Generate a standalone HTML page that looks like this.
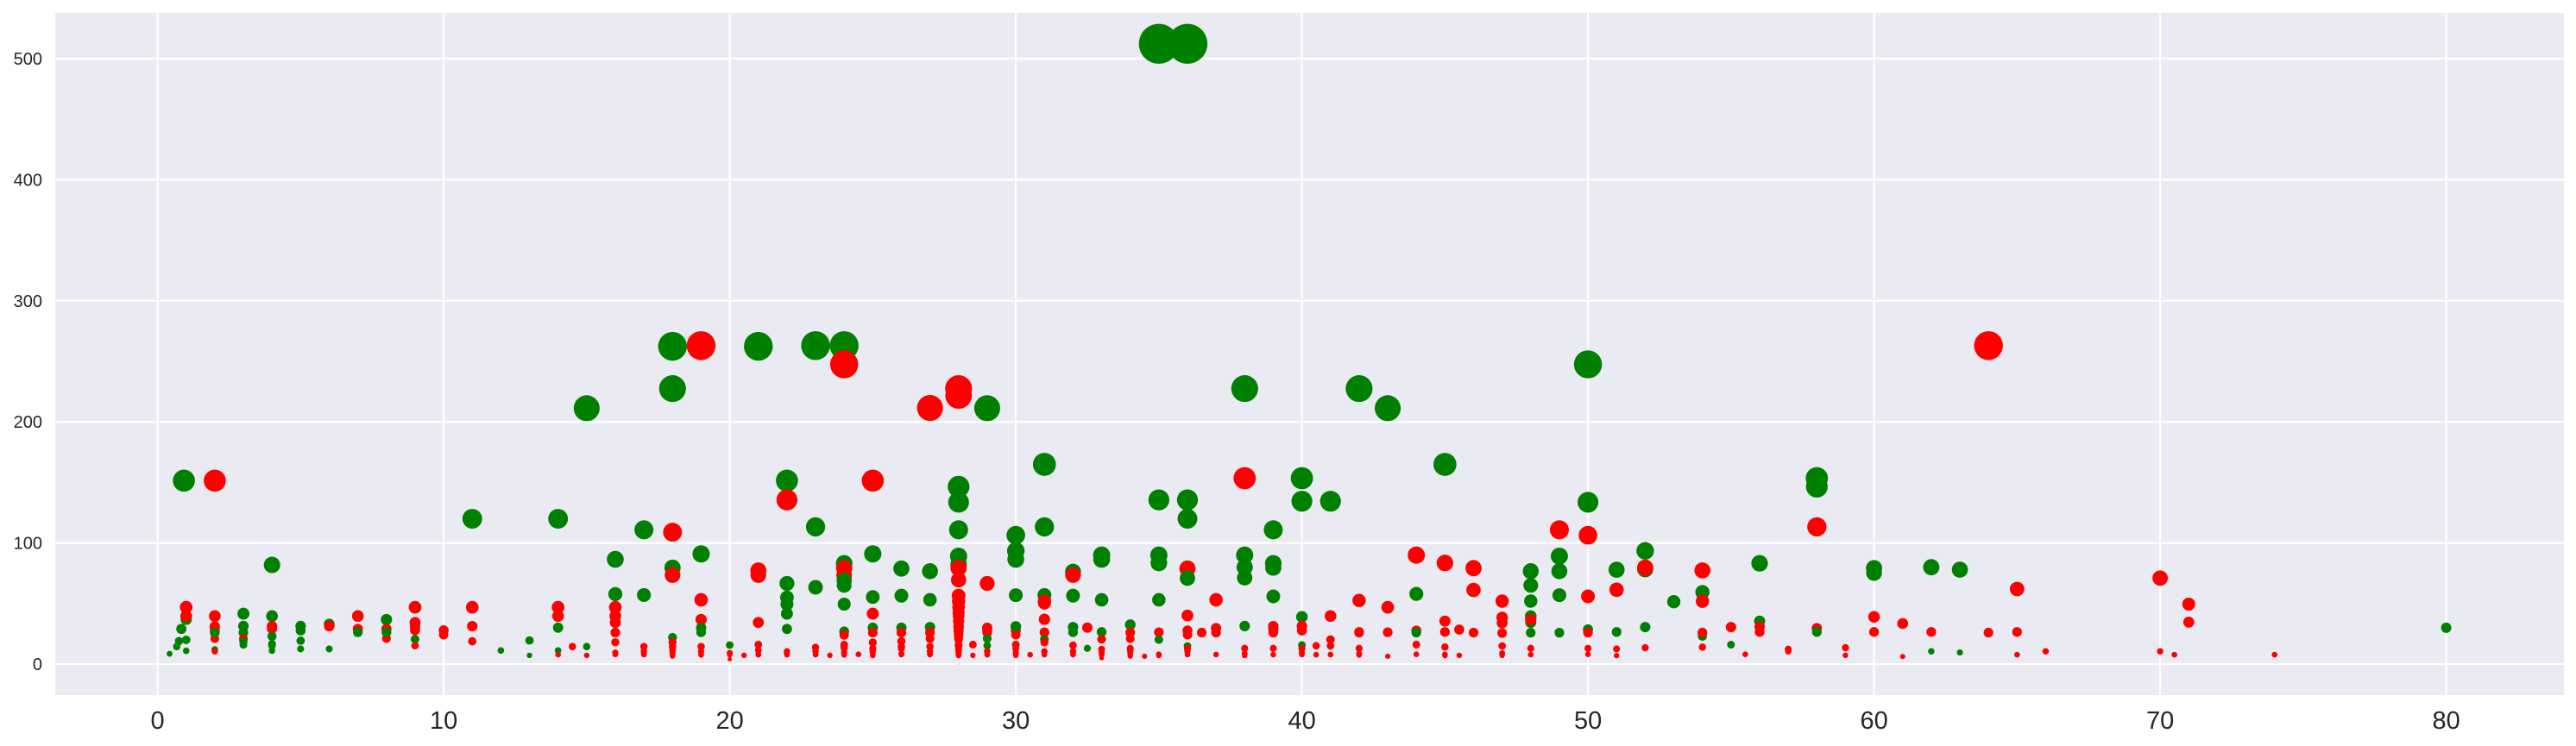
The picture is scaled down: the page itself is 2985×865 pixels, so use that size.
<!DOCTYPE html>
<html><head><meta charset="utf-8"><style>
html,body{margin:0;padding:0;background:#fff;}
svg{display:block;font-family:"Liberation Sans",Arial,sans-serif;}
</style></head><body>
<svg id="chart" width="2985" height="865" viewBox="0 0 2985 865" xmlns="http://www.w3.org/2000/svg">
<rect x="64" y="15" width="2907" height="791" fill="#EAEAF2"/>
<g id="grid"></g>
<g id="ticks"></g>
<g id="points"></g>
</svg>
<script>
const xTicks=[0,10,20,30,40,50,60,70,80];
const yTicks=[0,100,200,300,400,500];
const ages=[0.42,0.67,0.75,0.83,0.92,1,1,1,1,1,
2,2,2,2,2,2,2,2,3,3,3,3,3,3,4,4,4,4,4,4,4,4,5,5,5,5,6,6,6,7,7,7,8,8,8,8,9,9,9,9,9,9,10,10,11,11,11,11,12,13,13,
14,14,14,14,14,14,14.5,15,15,15,16,16,16,16,16,16,16,16,16,17,17,17,17,17,17,
18,18,18,18,18,18,18,18,18,18,18,18,19,19,19,19,19,19,19,19,19,19,20,20,20,20,20.5,
21,21,21,21,21,21,21,21,22,22,22,22,22,22,22,22,22,22,23,23,23,23,23,23,23,23.5,
24,24,24,24,24,24,24,24,24,24,24,24,24,24,24,24,24.5,
25,25,25,25,25,25,25,25,25,25,25,26,26,26,26,26,26,26,26,26,27,27,27,27,27,27,27,27,27,27,
28,28,28,28,28,28,28,28,28,28,28,28,28,28,28,28,28,28,28,28,28,28,28,28,28,28,28,28,28,28,28,28,28,28,28,
28.5,28.5,29,29,29,29,29,29,29,29,29,29,
30,30,30,30,30,30,30,30,30,30,30,30,30,30.5,
31,31,31,31,31,31,31,31,31,31,31,32,32,32,32,32,32,32,32,32,32.5,32.5,
33,33,33,33,33,33,33,33,33,34,34,34,34,34,34,34,34.5,
35,35,35,35,35,35,35,35,35,36,36,36,36,36,36,36,36,36,36,36,36,36.5,37,37,37,37,
38,38,38,38,38,38,38,38,38,39,39,39,39,39,39,39,39,39,40,40,40,40,40,40,40,40,40,40.5,40.5,
41,41,41,41,41,42,42,42,42,42,42,42,43,43,43,43,44,44,44,44,44,44,45,45,45,45,45,45,45,45.5,45.5,
46,46,46,47,47,47,47,47,47,47,48,48,48,48,48,48,48,48,48,49,49,49,49,49,
50,50,50,50,50,50,50,50,51,51,51,51,51,52,52,52,52,52,53,54,54,54,54,54,54,55,55,55.5,
56,56,56,56,57,57,58,58,58,58,58,59,59,60,60,60,60,61,61,62,62,62,63,63,64,64,65,65,65,66,70,70,70.5,71,71,74,80];
const fares=[8.5,14.5,19,29,151.5,11,20,37,46.9,39.7,
151.5,39.7,31,27.9,21,26,12,10.5,41.6,31.4,26,21,18.75,15.9,81.9,39.7,31.3,29.1,23,16.7,15.2,11.1,31.4,27.75,19.3,12.5,33,31.3,12.5,39.7,29.1,26.25,36.75,29.1,21.1,26.25,46.9,34.4,31.4,27.9,20.5,15.2,27.9,24.15,120,46.9,31.3,18.8,11.2,19.5,7.2,
120,46.9,39.7,30.1,11.2,7.8,14.45,211.3,14.45,7.2,86.5,57.8,46.9,39.7,34.4,26,18,9.5,8,110.9,57,14.5,10.5,8.7,7.9,
262.4,227.5,108.9,79.6,73.5,22,18,14.5,11.5,9.35,7.75,6.5,263,91,53.1,36.75,30,26.3,14.5,10.5,8.05,7.65,15.7,9.2,7.9,4,7.25,
262.4,77.3,73.5,34.4,16.1,11.5,8.05,7.75,151.5,135.6,66.6,55,49.5,41.6,29,10.5,9,7.75,263,113.3,63.4,13.8,10.5,8.05,7.85,7.23,
263,247.5,83.2,79.2,73.5,69.3,65,49.5,27,24,16.1,14.5,13,9.5,8.05,7.5,8.05,
151.5,91,55.4,41.6,30,26,17.8,13,10.5,7.9,7.05,78.85,56.5,30,26,18.8,14.5,13,8.7,7.9,211.5,76.7,53.1,30.5,26,21,14.5,10.5,8.7,7.9,
227.5,221.8,146.5,133.65,110.9,89.1,82.2,79.2,69.55,56.5,52,46.9,42.4,39.6,35.5,31.5,30,27.7,26,24.15,23.45,21.7,20.2,16.1,15.5,14.5,13,11.2,9.5,8.05,7.9,7.75,7.25,6.9,0,
16.1,7.2,211.3,66.6,30,27.7,26,21.1,15.2,10.5,7.9,7.75,
106.4,93.5,86.5,56.9,31,27.75,24.15,31.2,16.1,13,9.5,8.05,7.25,7.75,
164.9,113.3,57,52,50.5,37,26.25,20.5,18,10.5,7.85,76.3,73.5,56.5,30.5,26.3,15.5,10.5,8.05,7.9,30.07,13,
90,86.5,53.1,26.55,20.5,12.3,9.5,7.9,5,32.5,26,21,13,10.5,8.05,6.5,6.44,
512.3,135.6,90,83.5,53.1,26.3,20.25,8.05,7.05,512.3,135.6,120,78.85,71,40.1,27.75,24.15,15,13,10.5,7.9,26,53.1,29.7,26,7.9,
227.5,153.5,90,80,71.3,31.4,13,8.65,7.05,110.9,83.2,79.65,55.9,31.3,29.1,26,13,7.9,153.5,134.5,39,31.4,27.7,15.75,13,9.5,7.9,15.1,7.75,
134.5,39.7,20.2,15,7.85,227.5,52.5,26.55,26,13,8.65,7.55,211.3,46.9,26.25,6.45,90,57.98,27.7,26,16.1,8.05,164.9,83.5,35.5,26.55,14.1,8.05,6.97,28.5,7.2,
79.2,61.2,26,52,38.5,34,25.6,15,9,7.25,76.7,65,52,39.6,34.4,36.75,25.9,13,7.85,89.1,110.9,76.7,56.9,25.9,
247.5,133.65,106.4,55.9,28.7,26,13,8.05,77.9,61.4,26.55,12.5,7.05,93.5,78.3,79.65,30.5,13.5,51.5,77.3,59.4,51.9,23,26,14,30.5,16,8.05,
83.2,35.5,30.7,26.55,12.35,10.5,153.5,146.5,113.3,29.7,26.55,13.5,7.25,79.2,75.25,39,26.55,33.5,6.24,80,26.55,10.5,77.96,9.6,263,26,61.98,26.55,7.75,10.5,71,10.5,7.75,49.5,34.65,7.78,30];
const survived=[1,1,1,1,1,1,1,1,0,0,
0,0,0,0,0,1,1,0,1,1,1,0,1,1,1,1,0,0,1,1,1,1,1,1,1,1,1,0,1,0,0,1,1,0,0,1,0,0,0,0,1,0,0,0,1,0,0,0,1,1,1,
1,0,0,1,1,0,0,1,1,0,1,1,0,0,0,0,0,0,0,1,1,0,0,0,0,
1,1,0,1,0,1,0,0,0,0,0,0,0,1,0,0,1,1,0,0,0,0,1,0,0,0,0,
1,0,0,0,0,0,0,0,1,0,1,1,1,1,1,0,0,0,1,1,1,0,0,0,0,0,
1,0,1,0,0,1,1,1,1,0,0,0,0,0,0,0,0,
0,1,1,0,1,0,0,0,0,0,0,1,1,1,0,0,0,0,0,0,0,1,1,1,0,0,0,0,0,0,
0,0,1,1,1,1,1,0,0,0,0,0,0,0,0,0,0,0,0,0,0,0,0,0,0,0,0,0,0,0,0,0,0,0,0,
0,0,1,0,0,0,0,1,1,0,0,0,
1,1,1,1,0,0,0,1,0,0,0,0,0,0,
1,1,1,0,0,0,0,1,0,0,0,1,0,1,1,1,0,0,0,0,0,1,
1,1,1,1,0,0,0,0,0,1,0,0,0,0,0,0,0,
1,1,1,1,1,0,1,0,0,1,1,1,0,1,0,0,0,1,0,0,0,0,0,0,0,0,
1,0,1,1,1,1,0,0,0,1,1,1,1,0,0,0,0,0,1,1,1,0,0,1,0,0,0,0,0,
1,0,0,0,0,1,0,0,0,0,0,0,1,0,0,0,0,1,0,1,0,0,1,0,0,0,0,0,0,0,0,
0,0,0,0,0,0,0,0,0,0,1,1,1,1,1,0,1,0,0,1,0,1,1,1,
1,1,0,0,1,0,0,0,1,0,1,0,0,1,1,0,1,0,1,0,1,0,1,0,0,0,1,0,
1,1,0,0,0,0,1,1,0,0,1,0,0,1,1,0,0,0,0,1,0,1,1,1,0,0,0,0,0,0,0,0,0,0,0,0,1];

const svgNS="http://www.w3.org/2000/svg";
const L=64,R=2971,T=15,B=806;
function xs(a){return 182.6+33.15*a;}
function ys(f){return 770-1.404*f;}
const grid=document.getElementById('grid'),ticks=document.getElementById('ticks'),pts=document.getElementById('points');
xTicks.forEach(t=>{
  const l=document.createElementNS(svgNS,'line');
  
  
  l.setAttribute('x1',xs(t));l.setAttribute('x2',xs(t));l.setAttribute('y1',T);l.setAttribute('y2',B);
  l.setAttribute('stroke','#fff');l.setAttribute('stroke-width','2.2');grid.appendChild(l);
  const tx=document.createElementNS(svgNS,'text');
  
  
  tx.setAttribute('x',xs(t));tx.setAttribute('y',845);tx.setAttribute('text-anchor','middle');
  tx.setAttribute('font-size','29');tx.setAttribute('fill','#262626');tx.textContent=t;ticks.appendChild(tx);
});
yTicks.forEach(t=>{
  const l=document.createElementNS(svgNS,'line');
  
  
  l.setAttribute('x1',L);l.setAttribute('x2',R);l.setAttribute('y1',ys(t));l.setAttribute('y2',ys(t));
  l.setAttribute('stroke','#fff');l.setAttribute('stroke-width','2.2');grid.appendChild(l);
  const tx=document.createElementNS(svgNS,'text');
  
  
  tx.setAttribute('x',49);tx.setAttribute('y',ys(t)+7);tx.setAttribute('text-anchor','end');
  tx.setAttribute('font-size','20');tx.setAttribute('fill','#262626');tx.textContent=t;ticks.appendChild(tx);
});
for(let i=0;i<ages.length;i++){
  const c=document.createElementNS(svgNS,'circle');
  
  
  c.setAttribute('cx',xs(ages[i]));c.setAttribute('cy',ys(fares[i]));
  c.setAttribute('r',(2.0*Math.sqrt(fares[i])+1)/2);
  c.setAttribute('fill',survived[i]?'#008000':'#FF0000');
  pts.appendChild(c);
}
</script>
</body></html>
